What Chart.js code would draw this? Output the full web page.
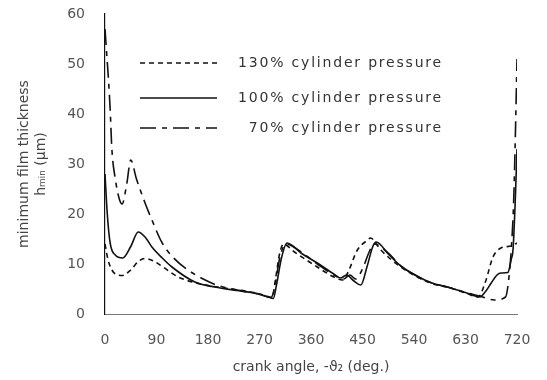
<!DOCTYPE html>
<html>
<head>
<meta charset="utf-8">
<script src="https://cdn.jsdelivr.net/npm/chart.js@4.4.1/dist/chart.umd.min.js"></script>
<style>
	html, body { margin: 0; padding: 0; background: #fff; }
	#graficoFilme { display: block; }
</style>
</head>
<body>
<canvas id="graficoFilme" width="547" height="380"></canvas>
<script>
// eixo x: angulo da manivela (graus), eixo y: espessura minima do filme (um)
var rotulos = ['130% cylinder pressure', '100% cylinder pressure', '70% cylinder pressure'];
var ticksX = [0, 90, 180, 270, 360, 450, 540, 630, 720];
var ticksY = [0, 10, 20, 30, 40, 50, 60];

var angulos130 = [0, 5, 12, 20, 30, 45, 58, 70, 85, 100, 128, 163, 180, 220, 260, 285, 292, 298, 305, 312, 330, 371, 400, 415, 424, 441, 459, 464, 482, 517, 569, 604, 630, 652, 665, 678, 692, 710, 720];
var espessura130 = [14, 11, 8.8, 7.9, 7.7, 8.8, 10.5, 11.1, 10.6, 9.5, 7.4, 6.1, 5.7, 5.0, 4.3, 3.5, 3.3, 7, 12, 14, 12.5, 9.4, 7.4, 6.8, 8.2, 12.8, 14.8, 15.2, 12.8, 9.4, 6.2, 5.2, 4.2, 3.4, 6.5, 11.4, 13.2, 13.6, 14.2];

var angulos100 = [0, 4, 9, 18, 31, 45, 58, 70, 82, 100, 117, 157, 192, 230, 260, 285, 294, 300, 308, 318, 345, 371, 400, 412, 422, 435, 447, 458, 468, 474, 495, 517, 545, 569, 604, 630, 655, 665, 675, 685, 692, 704, 710, 713, 717, 720];
var espessura100 = [28, 20, 14.2, 11.8, 11.2, 13.5, 16.4, 15.4, 13.4, 11.2, 9.4, 6.4, 5.4, 4.7, 4.2, 3.4, 3.1, 6, 11, 14.2, 12, 10.2, 8, 7.2, 7.8, 6.6, 5.8, 9.5, 13.5, 14.4, 12, 9.6, 7.6, 6.3, 5.2, 4.3, 3.4, 4.5, 6.2, 7.8, 8.2, 8.3, 11, 12.8, 22.8, 33];

var angulos70 = [0, 3, 6, 9, 12, 18, 25, 30, 38, 45, 55, 70, 82, 100, 120, 145, 175, 200, 240, 270, 290, 296, 305, 316, 345, 371, 400, 417, 428, 438, 450, 462, 470, 495, 517, 545, 569, 604, 630, 655, 680, 700, 706, 710, 714, 717, 720];
var espessura70 = [57, 52, 47, 41, 33, 27, 23, 22, 26, 30.8, 27, 22.2, 18.8, 14.2, 11.2, 8.8, 6.8, 5.6, 4.6, 4, 3.3, 5, 11, 14, 12.2, 10, 7.8, 7, 7.8, 7, 9, 12.5, 14, 12.2, 9.6, 7.6, 6.3, 5.2, 4.3, 3.6, 2.8, 3.4, 7.4, 13, 22, 35, 51];

var Filme = Filme || {};

Filme.Grafico = (function() {

	function Grafico() {
		this.ctx = document.getElementById('graficoFilme').getContext('2d');
	}

	function pontos(angulos, valores) {
		return angulos.map(function(a, i) { return { x: a, y: valores[i] }; });
	}

	function serie(rotulo, angulos, valores, tracejado) {
		return {
			label: rotulo,
			data: pontos(angulos, valores),
			borderColor: '#111',
			borderWidth: 1.6,
			borderDash: tracejado,
			pointRadius: 0,
			fill: false,
			cubicInterpolationMode: 'monotone'
		};
	}

	// legenda desenhada dentro da area do grafico
	var legendaInterna = {
		id: 'legendaInterna',
		afterDraw: function(chart) {
			var c = chart.ctx;
			var area = chart.chartArea;
			var linhasY = [49, 84, 114];
			c.save();
			chart.data.datasets.forEach(function(ds, i) {
				var y = area.top + linhasY[i];
				c.strokeStyle = '#111';
				c.lineWidth = 1.6;
				c.setLineDash(ds.borderDash || []);
				c.beginPath();
				c.moveTo(area.left + 35, y);
				c.lineTo(area.left + 112, y);
				c.stroke();
				c.setLineDash([]);
				c.fillStyle = '#333';
				c.font = '14px "DejaVu Sans"';
				c.letterSpacing = '1.8px';
				c.textAlign = 'right';
				c.textBaseline = 'middle';
				c.fillText(ds.label, area.left + 338, y);
			});
			c.restore();
		}
	};

	var fonte = { family: 'DejaVu Sans', size: 14 };

	Grafico.prototype.iniciar = function() {
		new Chart(this.ctx, {
			type: 'line',
			data: {
				datasets: [
					serie(rotulos[0], angulos130, espessura130, [5, 4]),
					serie(rotulos[1], angulos100, espessura100, []),
					serie(rotulos[2], angulos70, espessura70, [16, 6, 5, 6])
				]
			},
			options: {
				responsive: false,
				animation: false,
				layout: { padding: { top: 14, right: 30, left: 12, bottom: 0 } },
				plugins: {
					legend: { display: false },
					tooltip: { enabled: false }
				},
				scales: {
					x: {
						type: 'linear',
						min: 0,
						max: 720,
						afterBuildTicks: function(scale) {
							scale.ticks = ticksX.map(function(v) { return { value: v }; });
						},
						grid: { display: false },
						border: { color: '#777', width: 1, dash: [2, 3] },
						ticks: { color: '#555', font: fonte, padding: 10, maxRotation: 0 },
						title: {
							display: true,
							text: 'crank angle, -\u03d1\u2082 (deg.)',
							color: '#444',
							font: fonte,
							padding: { top: 8 }
						},
						afterFit: function(scale) { scale.height = 66; }
					},
					y: {
						min: 0,
						max: 60,
						afterBuildTicks: function(scale) {
							scale.ticks = ticksY.map(function(v) { return { value: v }; });
						},
						grid: { display: false },
						border: { color: '#111', width: 1.2 },
						ticks: { color: '#555', font: fonte, padding: 12 },
						title: {
							display: true,
							text: ['minimum film thickness', 'h\u2098\u1d62\u2099 (\u03bcm)'],
							color: '#444',
							font: fonte,
							padding: { bottom: 4 }
						},
						afterFit: function(scale) {
							scale.width = 93;
							scale.paddingTop = 0;
						}
					}
				}
			},
			plugins: [legendaInterna]
		});
	};

	return Grafico;

}());

var grafico = new Filme.Grafico();
grafico.iniciar();
</script>
</body>
</html>
